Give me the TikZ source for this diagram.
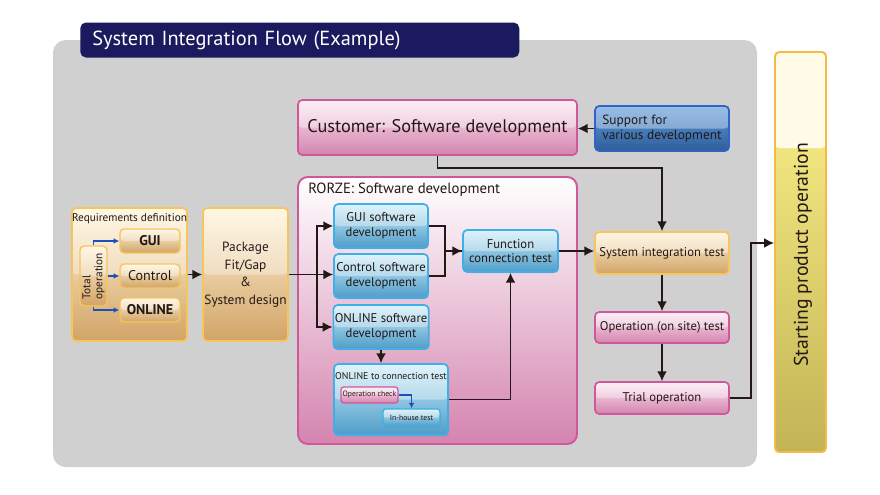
\documentclass[tikz,border=0pt]{standalone}
\usepackage{fontspec}
\setmainfont{PT Sans}
\usetikzlibrary{positioning, calc}
\usetikzlibrary{arrows.meta}
\usetikzlibrary{shadows}

\definecolor{panelgray}{HTML}{D0D0D0}
\definecolor{navy}{HTML}{1B1A5E}
\definecolor{inkc}{HTML}{231815}
\definecolor{pinkline}{HTML}{D0589A}
\definecolor{pinktop}{HTML}{FCE6F1}
\definecolor{pinkbot}{HTML}{D484AF}
\definecolor{bluetop}{HTML}{CDEDF9}
\definecolor{bluebot}{HTML}{4F9DC9}
\definecolor{blueline}{HTML}{3DB0E8}
\definecolor{orgline}{HTML}{F7C55A}
\definecolor{orgtop}{HTML}{FFF3D8}
\definecolor{orgbot}{HTML}{D2A467}
\definecolor{suptop}{HTML}{5E9BDB}
\definecolor{supbot}{HTML}{2F5E9A}
\definecolor{supline}{HTML}{2F63C4}
\definecolor{arrblue}{HTML}{1F4FB8}
\definecolor{barcream}{HTML}{FFFBE6}
\definecolor{bartop}{HTML}{FFF48C}
\definecolor{barbot}{HTML}{C2B455}
\definecolor{barline}{HTML}{F5B94A}

\tikzstyle{boxwh}=[minimum width=#1*0.025cm]
\tikzstyle{boxht}=[minimum height=#1*0.025cm]
\tikzstyle{gloss}=[path picture={\fill[white,opacity=0.35] (path picture bounding box.north west) rectangle (path picture bounding box.east);}]
\tikzstyle{basebox}=[rounded corners=3pt, inner sep=1pt, align=center, text=inkc, gloss]
\tikzstyle{pinkbox}=[basebox, draw=pinkline, line width=1.2pt, top color=pinktop, bottom color=pinkbot]
\tikzstyle{bluebox}=[basebox, draw=blueline, line width=1.2pt, top color=bluetop, bottom color=bluebot,
  drop shadow={opacity=0.3, shadow xshift=0.8pt, shadow yshift=-0.8pt}]
\tikzstyle{orgbox}=[basebox, draw=orgline, line width=1.2pt, top color=orgtop, bottom color=orgbot]
\tikzstyle{arrowline}=[-{Latex[length=7pt,width=7pt]}, line width=1.1pt, draw=inkc]
\tikzstyle{blueline}=[-{Latex[length=4pt,width=4pt]}, line width=0.9pt, draw=arrblue]

\begin{document}
\begin{tikzpicture}[x=0.025cm, y=-0.025cm]
    \useasboundingbox (0,0) rectangle (880,494);
    \fill[panelgray, rounded corners=9pt] (53,40) rectangle (757,467);

    % title
    \node[fill=navy, rounded corners=4pt, anchor=west, boxht=35, text width=415*0.025cm, inner xsep=12*0.025cm,
          align=left, text=white, font=\fontsize{14.5}{16}\selectfont] (title) at (80,40) {System Integration Flow (Example)};

    % customer side
    \node[pinkbox, boxwh=279, boxht=55, font=\fontsize{13}{15}\selectfont] (customer) at (437.5,127.5) {Customer: Software development};
    \node[basebox, draw=supline, line width=1.2pt, top color=suptop, bottom color=supbot, boxwh=134, boxht=45,
          align=left, font=\fontsize{9.5}{10.5}\selectfont] (support) at (662,128.5) {Support for\\various development};

    % requirements
    \node[orgbox, boxwh=115, boxht=133] (req) at (129.5,274.5) {};
    \node[text=inkc, font=\fontsize{8}{9}\selectfont] (reqtitle) at (129.5,219) {Requirements definition};
    \node[orgbox, boxwh=27, boxht=60, line width=1pt] (totop) at (93.5,276) {};
    \node[rotate=90, align=left, text=inkc, inner sep=0pt, font=\fontsize{8}{8.5}\selectfont] (totoptext) at (totop) {Total\\operation};
    \node[orgbox, boxwh=60, boxht=24, line width=1pt, font=\bfseries\fontsize{10}{11}\selectfont] (gui) at (150,241) {GUI};
    \node[orgbox, boxwh=60, boxht=24, line width=1pt, font=\fontsize{10}{11}\selectfont] (ctrl) at (150,276) {Control};
    \node[orgbox, boxwh=60, boxht=24, line width=1pt, font=\bfseries\fontsize{10}{11}\selectfont] (online) at (150,310) {ONLINE};

    \node[orgbox, boxwh=85, boxht=133, font=\fontsize{9.5}{12.5}\selectfont] (pkg) at (245.5,274.5) {Package\\Fit/Gap\\\&\\System design};

    % rorze
    \node[draw=pinkline, line width=1.4pt, rounded corners=7pt, top color=white, bottom color=pinkbot,
          boxwh=279, boxht=267] (rorze) at (437.5,310.5) {};
    \node[anchor=west, text=inkc, inner sep=0pt, font=\fontsize{10.5}{12}\selectfont] (rorzetitle) at (308,190) {RORZE: Software development};

    \node[bluebox, boxwh=94, boxht=44, font=\fontsize{9}{10.5}\selectfont] (guisw) at (381,226) {GUI software\\development};
    \node[bluebox, boxwh=94, boxht=44, font=\fontsize{9}{10.5}\selectfont] (ctrlsw) at (381,276) {Control software\\development};
    \node[bluebox, boxwh=94, boxht=44, font=\fontsize{9}{10.5}\selectfont] (onlsw) at (381,327) {ONLINE software\\development};
    \node[bluebox, boxwh=95, boxht=42, font=\fontsize{9}{10.5}\selectfont] (fct) at (510.5,251) {Function\\connection test};

    \node[bluebox, boxwh=114, boxht=71] (oct) at (391,399.5) {};
    \node[text=inkc, font=\fontsize{7}{8}\selectfont] (octtitle) at (391,376) {ONLINE to connection test};
    \node[pinkbox, boxwh=57, boxht=16, line width=0.9pt, rounded corners=2pt, font=\fontsize{5.5}{6}\selectfont] (opchk) at (369.5,395) {Operation check};
    \node[bluebox, boxwh=57, boxht=17, line width=0.9pt, rounded corners=2pt, font=\fontsize{5.5}{6}\selectfont] (inhouse) at (411.5,417.5) {In-house test};

    % right column
    \node[orgbox, boxwh=134, boxht=42, font=\fontsize{9}{10.5}\selectfont] (sit) at (662,253) {System integration test};
    \node[pinkbox, boxwh=134, boxht=31, font=\fontsize{9}{10.5}\selectfont] (optest) at (662,327.5) {Operation (on site) test};
    \node[pinkbox, boxwh=134, boxht=32, font=\fontsize{9}{10.5}\selectfont] (trial) at (662,398) {Trial operation};

    \node[draw=barline, line width=1.4pt, rounded corners=3pt, top color=bartop, bottom color=barbot, boxwh=51, boxht=400,
          path picture={\fill[barcream] (path picture bounding box.north west) rectangle ($(path picture bounding box.north east)+(0,96)$);}]
          (bar) at (800.5,252) {};
    \node[rotate=90, text=inkc, font=\fontsize{14}{16}\selectfont] (bartext) at (803,255) {Starting product operation};

    % connectors
    \draw[arrowline] (support.west) -- (support.west -| customer.east);
    \draw[arrowline] (customer.south) -- ++(0,12) -| (sit.north);

    \draw[blueline] (totop.north) |- (gui.west);
    \draw[blueline] (totop.east) -- (totop.east -| ctrl.west);
    \draw[blueline] (totop.south) |- (online.west);

    \draw[arrowline] (req.east) -- (pkg.west);
    \draw[arrowline] (pkg.east) -- (pkg.east -| ctrlsw.west);
    \draw[line width=1.1pt, draw=inkc] (pkg.east) -- ++(28,0) coordinate (split);
    \draw[arrowline] (split) |- (guisw.west);
    \draw[arrowline] (split) |- (onlsw.west);

    \draw[arrowline] (guisw.east) -- ++(16,0) |- (fct.west);
    \draw[line width=1.1pt, draw=inkc] (ctrlsw.east) -- ++(16,0) |- (fct.west);
    \draw[arrowline] (onlsw.south) -- (onlsw.south |- oct.north);
    \draw[arrowline] (oct.east) -| (fct.south);
    \draw[blueline] (opchk.east) -| (inhouse.north);

    \draw[arrowline] (fct.east) -- (fct.east -| sit.west);
    \draw[arrowline] (sit.south) -- (optest.north);
    \draw[arrowline] (optest.south) -- (trial.north);
    \draw[arrowline] (trial.east) -- ++(21,0) |- ($(bar.west)+(0,-9)$);
\end{tikzpicture}
\end{document}
